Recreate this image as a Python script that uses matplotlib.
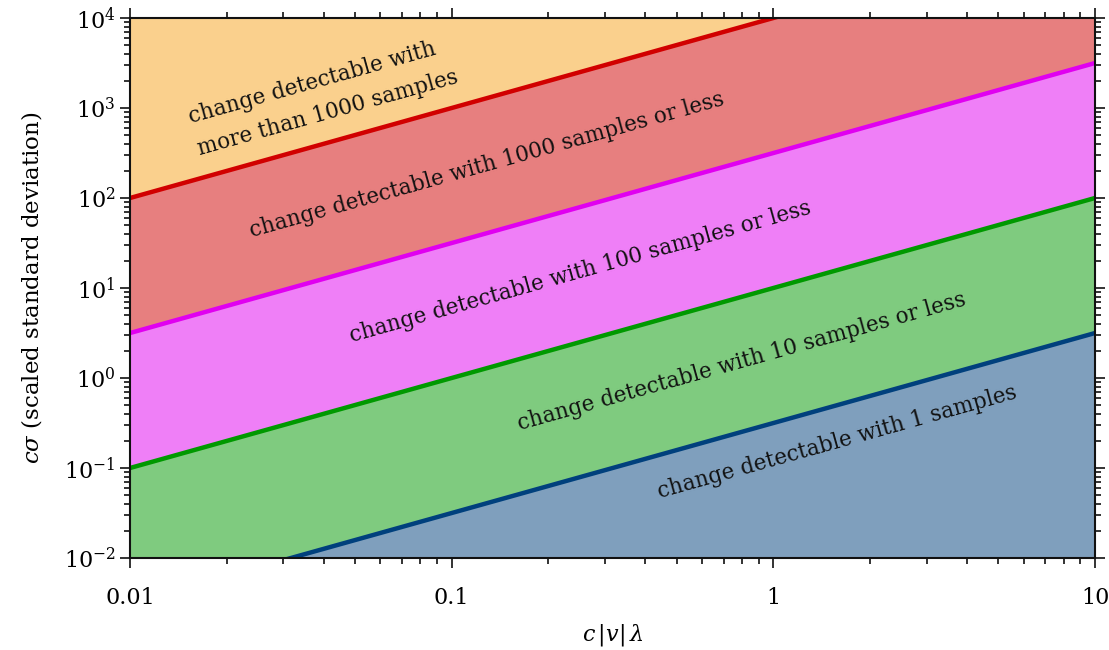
import numpy as np
import matplotlib
matplotlib.use("Agg")
import matplotlib.pyplot as plt
from matplotlib.ticker import FixedLocator, FixedFormatter, LogLocator, NullFormatter

plt.rcParams["font.family"] = ["DejaVu Serif"]
plt.rcParams["mathtext.fontset"] = "dejavuserif"

# Boundary lines between detection regimes (values at the two x ends)
x_ends = [0.01, 10.0]
y_1_sample = [0.00316, 3.16]
y_10_samples = [0.1, 100.0]
y_100_samples = [3.16, 3160.0]
y_1000_samples = [100.0, 100000.0]

x_ticks = [0.01, 0.1, 1, 10]
x_tick_labels = ["0.01", "0.1", "1", "10"]

region_labels = [
    "change detectable with\nmore than 1000 samples",
    "change detectable with 1000 samples or less",
    "change detectable with 100 samples or less",
    "change detectable with 10 samples or less",
    "change detectable with 1 samples",
]
label_x = [0.040, 0.129, 0.251, 0.80, 1.58]
label_y = [1330, 233, 15.1, 1.51, 0.195]

c_orange = "#F7A21D"
c_red = "#D10000"
c_magenta = "#E000F0"
c_green = "#009900"
c_blue = "#00407D"

fig = plt.figure(figsize=(11.09, 6.5), dpi=100)
ax = fig.add_axes([130 / 1109, 1 - 558 / 650, (1095 - 130) / 1109, (558 - 18) / 650])
ax.set_xscale("log")
ax.set_yscale("log")
ax.set_xlim(0.01, 10)
ax.set_ylim(1e-2, 1e4)

lo, hi = 1e-6, 1e8
ax.fill_between(x_ends, lo, y_1_sample, color=c_blue, alpha=0.5, lw=0)
ax.fill_between(x_ends, y_1_sample, y_10_samples, color=c_green, alpha=0.5, lw=0)
ax.fill_between(x_ends, y_10_samples, y_100_samples, color=c_magenta, alpha=0.5, lw=0)
ax.fill_between(x_ends, y_100_samples, y_1000_samples, color=c_red, alpha=0.5, lw=0)
ax.fill_between(x_ends, y_1000_samples, hi, color=c_orange, alpha=0.5, lw=0)

for ys, col in [(y_1_sample, c_blue), (y_10_samples, c_green),
                (y_100_samples, c_magenta), (y_1000_samples, c_red)]:
    ax.plot(x_ends, ys, color=col, lw=3.2, solid_capstyle="butt")

# Text angle follows the slope of the boundary lines on screen
p0 = ax.transData.transform((x_ends[0], y_10_samples[0]))
p1 = ax.transData.transform((x_ends[1], y_10_samples[1]))
angle = np.degrees(np.arctan2(p1[1] - p0[1], p1[0] - p0[0]))

for txt, tx, ty in zip(region_labels, label_x, label_y):
    ax.text(tx, ty, txt, rotation=angle, rotation_mode="anchor",
            ha="center", va="center", fontsize=15.5, color="#111111",
            multialignment="left", linespacing=1.65)

ax.xaxis.set_major_locator(FixedLocator(x_ticks))
ax.xaxis.set_major_formatter(FixedFormatter(x_tick_labels))
ax.xaxis.set_minor_locator(LogLocator(base=10, subs=np.arange(2, 10)))
ax.xaxis.set_minor_formatter(NullFormatter())
ax.yaxis.set_major_locator(LogLocator(base=10, numticks=10))
ax.yaxis.set_minor_locator(LogLocator(base=10, subs=np.arange(2, 10), numticks=20))
ax.yaxis.set_minor_formatter(NullFormatter())

ax.tick_params(which="both", direction="out", top=True, right=True,
               labelsize=16, width=1.2, color="#111111")
ax.tick_params(which="major", length=7)
ax.tick_params(which="minor", length=4)
ax.tick_params(axis="x", pad=14)
for s in ax.spines.values():
    s.set_linewidth(1.5)
    s.set_color("#111111")

ax.set_xlabel(r"$c\,|v|\,\lambda$", fontsize=16, labelpad=9)
ax.set_ylabel(r"$c\sigma$ (scaled standard deviation)", fontsize=16.5, labelpad=14)

fig.savefig("out.png", dpi=100)
